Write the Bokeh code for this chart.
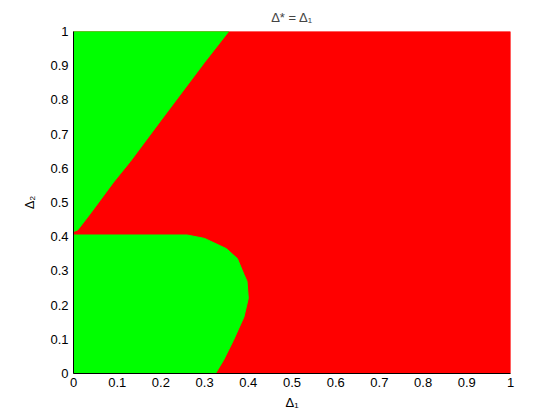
from bokeh.plotting import figure
from bokeh.models import Range1d, FixedTicker
from bokeh.embed import file_html
from bokeh.resources import INLINE

# Region boundaries (Delta_1, Delta_2)
red_x = [0.0, 1.0, 1.0, 0.0]
red_y = [0.0, 0.0, 1.0, 1.0]

upper_green_x = [0.0, 0.355, 0.30, 0.20, 0.13, 0.092, 0.04, 0.01, 0.0]
upper_green_y = [1.0, 1.0, 0.91, 0.74, 0.62, 0.56, 0.47, 0.42, 0.415]

lower_green_x = [0.0, 0.325, 0.343, 0.366, 0.39, 0.40, 0.397, 0.39, 0.375, 0.35, 0.30, 0.26, 0.0]
lower_green_y = [0.0, 0.0, 0.038, 0.097, 0.165, 0.22, 0.27, 0.29, 0.336, 0.365, 0.395, 0.405, 0.405]

ticks = [0, 0.1, 0.2, 0.3, 0.4, 0.5, 0.6, 0.7, 0.8, 0.9, 1]
tick_labels = {0: "0", 0.1: "0.1", 0.2: "0.2", 0.3: "0.3", 0.4: "0.4", 0.5: "0.5",
               0.6: "0.6", 0.7: "0.7", 0.8: "0.8", 0.9: "0.9", 1: "1"}

FONT = "Liberation Sans"
FS = "13px"

p = figure(frame_width=437, frame_height=342, output_backend="svg", toolbar_location=None,
           x_range=Range1d(0, 1), y_range=Range1d(0, 1), title="Δ* = Δ₁")
p.min_border_left = 73
p.min_border_right = 42
p.min_border_top = 31
p.min_border_bottom = 39
p.outline_line_color = None
p.background_fill_color = "white"
p.grid.visible = False

p.title.align = "center"
p.title.text_font = FONT
p.title.text_font_size = FS
p.title.text_font_style = "normal"
p.title.standoff = 13

p.patch(red_x, red_y, fill_color="#FF0000", line_color="#FF0000", line_width=1)
p.patch(upper_green_x, upper_green_y, fill_color="#00FF00", line_color="#00FF00", line_width=1)
p.patch(lower_green_x, lower_green_y, fill_color="#00FF00", line_color="#00FF00", line_width=1)

for ax in (p.xaxis[0], p.yaxis[0]):
    ax.ticker = FixedTicker(ticks=ticks)
    ax.major_label_overrides = tick_labels
    ax.major_tick_in = 0
    ax.major_tick_out = 0
    ax.minor_tick_line_color = None
    ax.axis_line_color = "black"
    ax.major_label_text_font = FONT
    ax.major_label_text_font_size = FS
    ax.major_label_text_color = "black"
    ax.axis_label_text_font = FONT
    ax.axis_label_text_font_size = FS
    ax.axis_label_text_font_style = "normal"
    ax.axis_label_text_color = "black"

p.xaxis.axis_label = "Δ₁"
p.yaxis.axis_label = "Δ₂"
p.xaxis.major_label_standoff = 4
p.yaxis.major_label_standoff = 5
p.xaxis.axis_label_standoff = 5
p.yaxis.axis_label_standoff = 10

open("out.html", "w").write(file_html(p, INLINE))
